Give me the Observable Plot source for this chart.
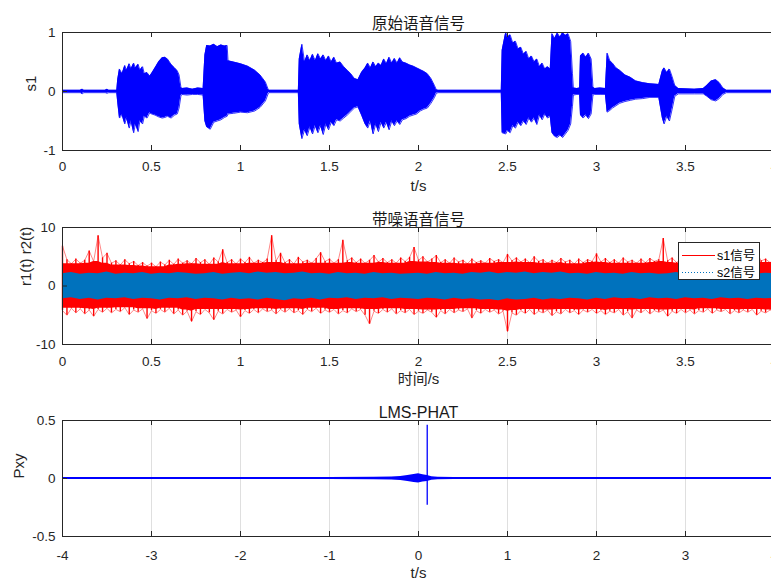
<!DOCTYPE html>
<html>
<head>
<meta charset="utf-8">
<script src="https://cdn.jsdelivr.net/npm/d3@7"></script>
<script src="https://cdn.jsdelivr.net/npm/@observablehq/plot@0.6"></script>
<style>
  html, body { margin: 0; padding: 0; background: #fff; overflow: hidden; }
  #wrap { position: relative; width: 771px; height: 585px; overflow: hidden; background: #fff; }
  .panel { position: absolute; left: 0; max-width: none !important; }
  .legend { position: absolute; left: 678px; top: 242px; width: 82px; height: 38px; box-sizing: border-box;
            border: 1px solid #262626; background: #fff; }
</style>
</head>
<body>
<div id="wrap"></div>
<script>
// ---------- Panel 1: 原始语音信号 — envelope [t, upper, lower] ----------
const s1Envelope = [
  [0,0.02,-0.02],[0.1,0.02,-0.02],[0.11,0.04,-0.04],[0.12,0.02,-0.02],[0.24,0.02,-0.02],[0.25,0.04,-0.03],[0.26,0.02,-0.02],[0.305,0.02,-0.02],
  [0.31,0.20,-0.18],[0.32,0.38,-0.45],[0.335,0.30,-0.40],[0.35,0.44,-0.55],[0.36,0.36,-0.45],[0.375,0.47,-0.62],[0.385,0.38,-0.50],[0.40,0.48,-0.70],
  [0.41,0.40,-0.55],[0.425,0.46,-0.68],[0.435,0.36,-0.50],[0.45,0.42,-0.55],[0.46,0.30,-0.42],[0.475,0.32,-0.45],[0.49,0.26,-0.36],[0.50,0.30,-0.38],
  [0.52,0.40,-0.40],[0.54,0.50,-0.43],[0.56,0.57,-0.45],[0.575,0.58,-0.44],[0.59,0.55,-0.42],[0.61,0.46,-0.45],[0.63,0.40,-0.40],[0.645,0.35,-0.38],
  [0.655,0.28,-0.28],[0.665,0.08,-0.08],[0.67,0.05,-0.05],[0.70,0.06,-0.06],[0.73,0.04,-0.05],[0.76,0.06,-0.05],[0.79,0.05,-0.06],
  [0.80,0.62,-0.50],[0.81,0.78,-0.60],[0.83,0.77,-0.64],[0.85,0.80,-0.52],[0.87,0.76,-0.50],[0.89,0.79,-0.48],[0.91,0.77,-0.44],[0.925,0.78,-0.42],
  [0.93,0.52,-0.38],[0.96,0.50,-0.37],[1.00,0.47,-0.35],[1.04,0.43,-0.36],[1.08,0.36,-0.33],[1.11,0.28,-0.27],[1.14,0.16,-0.16],[1.155,0.04,-0.04],
  [1.16,0.02,-0.02],[1.325,0.02,-0.02],
  [1.33,0.55,-0.55],[1.345,0.80,-0.80],[1.36,0.50,-0.65],[1.375,0.62,-0.75],[1.39,0.52,-0.60],[1.405,0.63,-0.72],[1.42,0.52,-0.58],[1.435,0.64,-0.70],
  [1.45,0.55,-0.58],[1.465,0.62,-0.73],[1.48,0.52,-0.55],[1.495,0.60,-0.65],[1.51,0.50,-0.52],[1.525,0.58,-0.58],[1.54,0.48,-0.48],[1.56,0.50,-0.50],
  [1.58,0.42,-0.45],[1.60,0.36,-0.40],[1.62,0.30,-0.34],[1.64,0.22,-0.28],[1.66,0.20,-0.26],[1.68,0.32,-0.40],[1.70,0.40,-0.55],[1.715,0.48,-0.62],
  [1.73,0.40,-0.50],[1.745,0.50,-0.72],[1.76,0.42,-0.55],[1.775,0.48,-0.68],[1.79,0.44,-0.52],[1.805,0.55,-0.62],[1.82,0.47,-0.52],[1.835,0.58,-0.65],
  [1.85,0.48,-0.50],[1.865,0.56,-0.58],[1.88,0.48,-0.50],[1.895,0.57,-0.56],[1.91,0.50,-0.48],[1.93,0.48,-0.46],[1.95,0.45,-0.42],[1.97,0.43,-0.40],
  [1.99,0.40,-0.38],[2.01,0.37,-0.33],[2.03,0.34,-0.30],[2.05,0.30,-0.28],[2.07,0.22,-0.20],[2.09,0.10,-0.10],[2.10,0.03,-0.03],
  [2.11,0.02,-0.02],[2.465,0.02,-0.02],
  [2.47,0.70,-0.70],[2.49,1.00,-0.72],[2.50,0.92,-0.66],[2.515,0.96,-0.70],[2.53,0.82,-0.58],[2.545,0.85,-0.62],[2.56,0.72,-0.52],[2.575,0.75,-0.58],
  [2.59,0.63,-0.50],[2.605,0.68,-0.56],[2.62,0.55,-0.45],[2.635,0.60,-0.52],[2.65,0.50,-0.45],[2.665,0.55,-0.56],[2.68,0.42,-0.40],[2.695,0.48,-0.48],
  [2.71,0.38,-0.38],[2.725,0.42,-0.45],[2.74,0.38,-0.42],
  [2.75,0.98,-0.70],[2.765,0.90,-0.76],[2.78,0.99,-0.78],[2.795,0.92,-0.74],[2.81,1.00,-0.78],[2.825,0.95,-0.72],[2.84,0.98,-0.66],[2.855,0.85,-0.55],
  [2.865,0.30,-0.25],[2.87,0.06,-0.06],[2.89,0.05,-0.05],[2.905,0.06,-0.05],
  [2.91,0.60,-0.40],[2.925,0.65,-0.45],[2.94,0.58,-0.40],[2.955,0.65,-0.46],[2.97,0.55,-0.38],[2.98,0.08,-0.06],[2.99,0.05,-0.05],[3.02,0.06,-0.05],[3.05,0.05,-0.05],
  [3.06,0.65,-0.35],[3.075,0.52,-0.32],[3.09,0.48,-0.28],[3.11,0.40,-0.24],[3.13,0.36,-0.20],[3.16,0.28,-0.17],[3.19,0.24,-0.15],[3.22,0.18,-0.13],
  [3.26,0.15,-0.12],[3.30,0.13,-0.10],[3.35,0.12,-0.10],
  [3.37,0.35,-0.45],[3.38,0.40,-0.55],[3.395,0.32,-0.42],[3.41,0.38,-0.50],[3.425,0.25,-0.30],[3.44,0.10,-0.08],[3.46,0.05,-0.04],[3.55,0.04,-0.04],[3.60,0.05,-0.04],
  [3.62,0.10,-0.08],[3.645,0.18,-0.14],[3.67,0.20,-0.16],[3.69,0.15,-0.12],[3.71,0.06,-0.05],[3.73,0.02,-0.02],[4.0,0.02,-0.02]
];

// ---------- Panel 2: 带噪语音信号 — red (s1) envelope every 0.025 s, blue (s2) band every 0.05 s ----------
const noiseStep = 0.025;
const redHi = [
  6.8,4.5,3.8,4.6,3.9,4.4,6.0,4.2,8.6,4.8,
  5.6,3.9,4.3,3.6,4.5,3.8,4.2,3.5,4.0,3.4,
  3.9,3.3,4.1,3.6,4.4,3.7,4.6,3.9,4.3,3.8,
  4.7,4.0,4.5,3.7,4.8,4.1,6.2,4.0,4.5,3.8,
  4.6,4.0,4.9,3.9,4.4,4.0,4.6,8.6,4.3,5.6,
  4.0,4.5,3.8,4.9,4.1,4.4,3.9,4.7,5.7,4.2,
  4.6,3.9,4.5,7.8,4.3,4.8,4.0,4.6,3.9,4.4,
  5.2,4.1,4.7,4.0,4.5,3.9,4.8,4.2,4.9,6.6,
  4.4,5.0,4.1,4.6,5.2,4.0,4.5,3.9,4.8,4.1,
  4.4,3.8,4.6,4.0,4.3,3.9,4.7,4.2,4.5,4.0,
  5.4,4.3,4.8,4.1,4.6,4.0,5.0,4.2,4.5,3.9,
  4.4,4.0,4.7,4.1,4.4,3.8,4.6,4.0,4.5,4.2,
  5.5,4.1,4.7,4.0,4.5,3.9,4.8,4.1,4.4,3.9,
  4.6,4.0,4.7,4.2,4.5,8.1,4.3,4.8,4.0,4.6,
  3.9,4.4,4.1,4.7,5.5,4.2,4.6,4.0,4.5,3.9,
  4.8,4.1,4.4,4.0,4.6,4.2,5.7,4.3,4.6,4.0,
  4.5
];
const redLo = [
  -4.2,-5.0,-3.8,-4.6,-3.9,-4.8,-4.1,-5.2,-4.0,-4.5,
  -3.8,-4.6,-4.0,-4.4,-3.7,-4.9,-4.1,-4.5,-3.9,-5.6,
  -4.2,-4.7,-4.0,-4.5,-3.8,-4.8,-4.1,-5.0,-4.3,-6.1,
  -4.4,-4.9,-4.0,-4.6,-5.8,-4.3,-4.8,-4.0,-4.5,-4.1,
  -5.3,-4.2,-4.7,-4.0,-4.6,-3.9,-4.4,-4.1,-4.8,-4.0,
  -4.5,-3.9,-4.6,-4.2,-4.9,-4.0,-4.4,-3.8,-4.7,-4.1,
  -4.5,-4.0,-4.8,-4.2,-4.6,-3.9,-4.4,-4.0,-5.0,-6.5,
  -4.3,-4.7,-4.0,-4.5,-3.9,-4.8,-4.2,-4.6,-4.0,-4.9,
  -4.3,-4.7,-4.1,-4.5,-5.4,-4.2,-4.8,-4.0,-4.6,-4.1,
  -4.4,-3.9,-5.5,-4.2,-4.7,-4.0,-4.5,-4.1,-4.8,-4.3,
  -7.8,-4.6,-5.0,-4.2,-4.7,-4.0,-4.9,-4.3,-4.6,-4.1,
  -5.1,-4.4,-4.8,-4.0,-4.6,-4.2,-4.9,-4.1,-4.5,-4.0,
  -4.7,-4.2,-4.9,-4.3,-4.6,-4.0,-5.0,-4.4,-5.5,-4.1,
  -4.6,-4.0,-4.8,-4.2,-4.5,-4.1,-5.2,-4.3,-4.7,-4.0,
  -4.6,-4.1,-4.8,-4.2,-4.5,-3.9,-4.7,-4.1,-4.4,-4.0,
  -4.8,-4.2,-4.6,-4.1,-4.5,-4.0,-5.0,-4.3,-4.6,-4.1,
  -4.4
];
const bandStep = 0.05;
const blueHi = [
  2.1,2.3,2.0,2.2,2.1,2.4,2.0,2.2,2.1,2.3,
  2.0,2.2,2.1,2.3,2.2,2.0,2.1,2.3,2.0,2.2,
  2.3,2.1,2.4,2.2,2.3,2.1,2.2,2.4,2.1,2.2,
  2.0,2.3,2.1,2.2,2.0,2.3,2.1,2.2,2.0,2.1,
  2.2,2.0,2.3,2.1,2.2,2.0,2.3,2.2,2.4,2.1,
  2.3,2.2,2.4,2.1,2.3,2.2,2.4,2.1,2.2,2.0,
  2.3,2.1,2.2,2.0,2.3,2.1,2.2,2.0,2.1,2.3,
  2.0,2.2,2.1,2.3,2.0,2.2,2.1,2.3,2.0,2.2,
  2.1
];
const blueLo = [
  -2.2,-2.0,-2.3,-2.1,-2.4,-2.1,-2.2,-2.0,-2.3,-2.1,
  -2.2,-2.4,-2.1,-2.2,-2.0,-2.3,-2.1,-2.2,-2.4,-2.1,
  -2.3,-2.2,-2.4,-2.1,-2.3,-2.5,-2.2,-2.3,-2.1,-2.4,
  -2.1,-2.2,-2.0,-2.3,-2.1,-2.2,-2.0,-2.3,-2.1,-2.2,
  -2.3,-2.1,-2.2,-2.4,-2.1,-2.3,-2.2,-2.4,-2.3,-2.5,
  -2.2,-2.4,-2.3,-2.1,-2.4,-2.2,-2.3,-2.1,-2.2,-2.4,
  -2.1,-2.3,-2.0,-2.2,-2.1,-2.3,-2.0,-2.2,-2.1,-2.3,
  -2.0,-2.2,-2.1,-2.3,-2.0,-2.2,-2.1,-2.3,-2.1,-2.2,
  -2.1
];
const legendLabels = ["s1信号", "s2信号"];

// ---------- Panel 3: LMS-PHAT — envelope [lag, upper, lower] and the main peak ----------
const pxyEnvelope = [
  [-4,0.008,-0.008],[-3.5,0.009,-0.008],[-3,0.008,-0.009],[-2.5,0.009,-0.008],[-2,0.008,-0.008],[-1.5,0.009,-0.009],
  [-1,0.008,-0.008],[-0.5,0.01,-0.01],[-0.3,0.012,-0.012],[-0.2,0.018,-0.018],[-0.12,0.026,-0.026],[-0.05,0.034,-0.034],
  [0,0.04,-0.038],[0.05,0.032,-0.03],[0.1,0.026,-0.026],[0.15,0.016,-0.016],[0.22,0.011,-0.011],[0.4,0.009,-0.009],
  [1,0.008,-0.008],[1.5,0.009,-0.009],[2,0.008,-0.008],[2.5,0.009,-0.008],[3,0.008,-0.009],[3.5,0.009,-0.008],[4,0.008,-0.008]
];
const pxyPeakLag = [0.098];
const pxyPeakHi = [0.46];
const pxyPeakLo = [-0.23];

// ---------- Axes ----------
const ticks1X = [0,0.5,1,1.5,2,2.5,3,3.5,4];
const ticks1Y = [-1,0,1];
const ticks2Y = [-10,0,10];
const ticks3X = [-4,-3,-2,-1,0,1,2,3,4];
const ticks3Y = [-0.5,0,0.5];

const W = 780, ML = 62, MR = 6;
const AXC = "#262626";
const SANS = "'Liberation Sans', Arial, Helvetica, sans-serif";
const CJK = "'Liberation Sans', 'Noto Sans CJK SC', sans-serif";

function makePanel(cfg) {
  const plotH = cfg.height - cfg.mt - cfg.mb;
  const plotW = W - ML - MR;
  const marks = [];
  if (cfg.grid) {
    marks.push(Plot.gridX(cfg.xTicks, {stroke: AXC, strokeOpacity: 0.15, strokeWidth: 1}));
    marks.push(Plot.gridY(cfg.yTicks, {stroke: AXC, strokeOpacity: 0.15, strokeWidth: 1}));
  }
  marks.push(...cfg.data);
  marks.push(
    Plot.ruleX(cfg.xTicks, {x: d => d, insetTop: plotH - 5, stroke: AXC}),
    Plot.ruleX(cfg.xTicks, {x: d => d, insetBottom: plotH - 5, stroke: AXC}),
    Plot.ruleY(cfg.yTicks, {y: d => d, insetRight: plotW - 5, stroke: AXC}),
    Plot.axisX(cfg.xTicks, {tickSize: 0, tickPadding: cfg.xPad, tickFormat: d => String(d), label: null, fill: AXC}),
    Plot.axisY(cfg.yTicks, {tickSize: 0, tickPadding: 7, tickFormat: d => String(d), label: null, fill: AXC}),
    Plot.frame({stroke: AXC, strokeWidth: 1}),
    Plot.text([cfg.title], {text: d => d, frameAnchor: "top", dy: cfg.titleDy, fontSize: cfg.titleSize, fontFamily: CJK, fill: "#1a1a1a"}),
    Plot.text([cfg.xLabel], {text: d => d, frameAnchor: "bottom", dy: cfg.xLabelDy, fontSize: 15, fontFamily: CJK, fill: AXC}),
    Plot.text([cfg.yLabel], {text: d => d, frameAnchor: "left", dx: cfg.yLabelDx, rotate: -90, fontSize: 15, fontFamily: SANS, fill: AXC})
  );
  const svg = Plot.plot({
    width: W, height: cfg.height,
    marginLeft: ML, marginRight: MR, marginTop: cfg.mt, marginBottom: cfg.mb,
    x: {domain: cfg.xDomain},
    y: {domain: cfg.yDomain},
    style: {fontFamily: SANS, fontSize: "13.5px", color: AXC, background: "transparent", overflow: "visible", maxWidth: "none"},
    marks
  });
  svg.classList.add("panel");
  svg.style.top = cfg.top + "px";
  svg.style.maxWidth = "none";
  svg.style.width = W + "px";
  svg.style.height = cfg.height + "px";
  return svg;
}

const wrap = document.getElementById("wrap");

// Panel 1
wrap.appendChild(makePanel({
  top: 0, height: 200, mt: 32, mb: 50,
  xDomain: [0, 4], yDomain: [-1, 1], xTicks: ticks1X, yTicks: ticks1Y, grid: false, xPad: 11,
  title: "原始语音信号", titleDy: -15, titleSize: 15.5,
  xLabel: "t/s", xLabelDy: 40, yLabel: "s1", yLabelDx: -31,
  data: [
    Plot.areaY(s1Envelope, {x: d => d[0], y1: d => d[2], y2: d => d[1], fill: "#0000ff"}),
    Plot.line(s1Envelope, {x: d => d[0], y: d => d[1], stroke: "#0000ff", strokeWidth: 0.8}),
    Plot.line(s1Envelope, {x: d => d[0], y: d => d[2], stroke: "#0000ff", strokeWidth: 0.8})
  ]
}));

// Panel 2: red core = local minimum of neighbouring peaks (window of 5), thin rules for each peak
const redIdx = d3.range(redHi.length);
const blueIdx = d3.range(blueHi.length);
const near = (arr, i) => arr.slice(Math.max(0, i - 2), i + 3);
const coreHi = i => d3.min(near(redHi, i));
const coreLo = i => d3.max(near(redLo, i));
wrap.appendChild(makePanel({
  top: 200, height: 195, mt: 27, mb: 51,
  xDomain: [0, 4], yDomain: [-10, 10], xTicks: ticks1X, yTicks: ticks2Y, grid: true, xPad: 12,
  title: "带噪语音信号", titleDy: -14, titleSize: 15.5,
  xLabel: "时间/s", xLabelDy: 39, yLabel: "r1(t) r2(t)", yLabelDx: -36,
  data: [
    Plot.areaY(redIdx, {x: i => i * noiseStep, y1: coreLo, y2: coreHi, fill: "#ff0000"}),
    Plot.ruleX(redIdx, {x: i => i * noiseStep, y1: i => redLo[i], y2: i => redHi[i], stroke: "#ff0000", strokeWidth: 1.4}),
    Plot.line(redIdx, {x: i => i * noiseStep, y: i => redHi[i], stroke: "#ff0000", strokeWidth: 0.6, strokeOpacity: 0.8}),
    Plot.line(redIdx, {x: i => i * noiseStep, y: i => redLo[i], stroke: "#ff0000", strokeWidth: 0.6, strokeOpacity: 0.8}),
    Plot.areaY(blueIdx, {x: i => i * bandStep, y1: i => blueLo[i], y2: i => blueHi[i], fill: "#0072bd"})
  ]
}));

// Panel 3
wrap.appendChild(makePanel({
  top: 395, height: 190, mt: 25, mb: 49,
  xDomain: [-4, 4], yDomain: [-0.5, 0.5], xTicks: ticks3X, yTicks: ticks3Y, grid: true, xPad: 14,
  title: "LMS-PHAT", titleDy: -13.5, titleSize: 16,
  xLabel: "t/s", xLabelDy: 41, yLabel: "Pxy", yLabelDx: -43,
  data: [
    Plot.areaY(pxyEnvelope, {x: d => d[0], y1: d => d[2], y2: d => d[1], fill: "#0000ff"}),
    Plot.ruleX(pxyPeakLag, {x: d => d, y1: (d, i) => pxyPeakLo[i], y2: (d, i) => pxyPeakHi[i], stroke: "#0000ff", strokeWidth: 1.3})
  ]
}));

// Legend for panel 2
const leg = document.createElement("div");
leg.className = "legend";
leg.innerHTML = `
<svg width="80" height="36" style="display:block">
  <line x1="3" x2="36" y1="12.5" y2="12.5" stroke="#ff0000" stroke-width="1.2"/>
  <line x1="3" x2="36" y1="29.5" y2="29.5" stroke="#0072bd" stroke-width="1" stroke-dasharray="1 2"/>
  <text x="38" y="17" font-size="12.5" font-family="${CJK.replace(/'/g, "&quot;")}" fill="#000">${legendLabels[0]}</text>
  <text x="38" y="34" font-size="12.5" font-family="${CJK.replace(/'/g, "&quot;")}" fill="#000">${legendLabels[1]}</text>
</svg>`;
wrap.appendChild(leg);
</script>
</body>
</html>
